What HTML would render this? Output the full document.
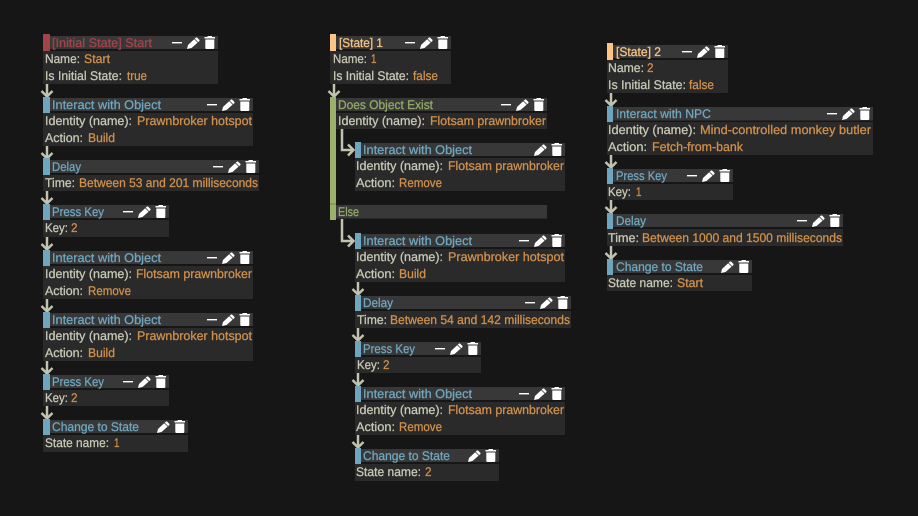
<!DOCTYPE html>
<html><head><meta charset="utf-8"><style>
html,body{margin:0;padding:0;background:#161616;width:918px;height:516px;overflow:hidden}
svg{display:block}
text{font-family:"Liberation Sans",sans-serif;font-size:12.5px;white-space:pre;text-rendering:geometricPrecision;stroke-width:.28px}
.l{fill:#c8c8b6;stroke:#c8c8b6}.v{fill:#d0904c;stroke:#d0904c}.b{fill:#6fa6bf;stroke:#6fa6bf}.r{fill:#a5434a;stroke:#a5434a}.o{fill:#f5c284;stroke:#f5c284}.g{fill:#93aa68;stroke:#93aa68}
.bd{fill:#2a2a2a}.hd{fill:#383838}
.ba{fill:#6fa6bf}.br{fill:#a5434a}.bo{fill:#fcc585}.bg{fill:#9bb16b}
.a{fill:none;stroke:#c2c2ae;stroke-width:2.5}
</style></head><body>
<svg width="918" height="516" viewBox="0 0 918 516" xmlns="http://www.w3.org/2000/svg">
<defs>
<g id="m"><rect x="-46" y="6" width="10" height="1.400" fill="#fff"/></g>
<g id="p">
<path d="M-31 13 L-30 9 L-22 1.500 L-21 1.500 L-18.500 4 L-18.500 5 L-26.500 12 Z" fill="#fff"/>
<path d="M-24 2.500 L-20 6.500" stroke="#383838" stroke-width="0.800"/>
<rect x="-13.500" y="1" width="10.500" height="1.500" fill="#fff"/><rect x="-10.500" y="0" width="4.500" height="1.500" fill="#fff"/>
<path d="M-12.700 3.500H-3.700V12Q-3.700 13 -4.700 13H-11.700Q-12.700 13 -12.700 12Z" fill="#fff"/>
</g>
<g id="ar"><path class="a" d="M0 0V12.500M-5.500 7L0 12.500L5.500 7"/></g>
</defs>
<rect width="918" height="516" fill="#161616"/>

<!-- Column 1 -->
<use href="#ar" x="47" y="84"/><use href="#ar" x="47" y="146"/><use href="#ar" x="47" y="191"/><use href="#ar" x="47" y="237"/><use href="#ar" x="47" y="299"/><use href="#ar" x="47" y="361"/><use href="#ar" x="47" y="406"/>

<rect class="hd" x="50" y="36" width="168" height="13"/><rect class="bd" x="43" y="51" width="175" height="33"/><rect class="br" x="43" y="34" width="7" height="17"/>
<use href="#m" x="218" y="36"/><use href="#p" x="218" y="36"/>
<text class="r" x="52" y="47" textLength="100" lengthAdjust="spacingAndGlyphs">[Initial State] Start</text>
<text class="l" x="45" y="63" textLength="35" lengthAdjust="spacingAndGlyphs">Name:</text><text class="v" x="84" y="63" textLength="26" lengthAdjust="spacingAndGlyphs">Start</text>
<text class="l" x="45" y="80" textLength="77" lengthAdjust="spacingAndGlyphs">Is Initial State:</text><text class="v" x="127" y="80" textLength="20" lengthAdjust="spacingAndGlyphs">true</text>

<rect class="hd" x="50" y="98" width="203" height="13"/><rect class="bd" x="43" y="113" width="210" height="33"/><rect class="ba" x="43" y="97" width="7" height="16"/>
<use href="#m" x="253" y="98"/><use href="#p" x="253" y="98"/>
<text class="b" x="52" y="109" textLength="109" lengthAdjust="spacingAndGlyphs">Interact with Object</text>
<text class="l" x="45" y="125" textLength="87" lengthAdjust="spacingAndGlyphs">Identity (name):</text><text class="v" x="137" y="125" textLength="115" lengthAdjust="spacingAndGlyphs">Prawnbroker hotspot</text>
<text class="l" x="45" y="142" textLength="38" lengthAdjust="spacingAndGlyphs">Action:</text><text class="v" x="88" y="142" textLength="27" lengthAdjust="spacingAndGlyphs">Build</text>

<rect class="hd" x="50" y="160" width="209" height="13"/><rect class="bd" x="43" y="175" width="216" height="16"/><rect class="ba" x="43" y="158" width="7" height="17"/>
<use href="#m" x="259" y="160"/><use href="#p" x="259" y="160"/>
<text class="b" x="52" y="171" textLength="29" lengthAdjust="spacingAndGlyphs">Delay</text>
<text class="l" x="45" y="187" textLength="30" lengthAdjust="spacingAndGlyphs">Time:</text><text class="v" x="79" y="187" textLength="179" lengthAdjust="spacingAndGlyphs">Between 53 and 201 milliseconds</text>

<rect class="hd" x="50" y="205" width="119" height="13"/><rect class="bd" x="43" y="220" width="126" height="17"/><rect class="ba" x="43" y="204" width="7" height="16"/>
<use href="#m" x="169" y="205"/><use href="#p" x="169" y="205"/>
<text class="b" x="52" y="216" textLength="52" lengthAdjust="spacingAndGlyphs">Press Key</text>
<text class="l" x="45" y="232" textLength="23" lengthAdjust="spacingAndGlyphs">Key:</text><text class="v" x="71" y="232" textLength="6.500" lengthAdjust="spacingAndGlyphs">2</text>

<rect class="hd" x="50" y="251" width="203" height="13"/><rect class="bd" x="43" y="266" width="210" height="33"/><rect class="ba" x="43" y="250" width="7" height="16"/>
<use href="#m" x="253" y="251"/><use href="#p" x="253" y="251"/>
<text class="b" x="52" y="262" textLength="109" lengthAdjust="spacingAndGlyphs">Interact with Object</text>
<text class="l" x="45" y="278" textLength="87" lengthAdjust="spacingAndGlyphs">Identity (name):</text><text class="v" x="136" y="278" textLength="116" lengthAdjust="spacingAndGlyphs">Flotsam prawnbroker</text>
<text class="l" x="45" y="295" textLength="38" lengthAdjust="spacingAndGlyphs">Action:</text><text class="v" x="88" y="295" textLength="43" lengthAdjust="spacingAndGlyphs">Remove</text>

<rect class="hd" x="50" y="313" width="203" height="13"/><rect class="bd" x="43" y="328" width="210" height="33"/><rect class="ba" x="43" y="312" width="7" height="16"/>
<use href="#m" x="253" y="313"/><use href="#p" x="253" y="313"/>
<text class="b" x="52" y="324" textLength="109" lengthAdjust="spacingAndGlyphs">Interact with Object</text>
<text class="l" x="45" y="340" textLength="87" lengthAdjust="spacingAndGlyphs">Identity (name):</text><text class="v" x="137" y="340" textLength="115" lengthAdjust="spacingAndGlyphs">Prawnbroker hotspot</text>
<text class="l" x="45" y="357" textLength="38" lengthAdjust="spacingAndGlyphs">Action:</text><text class="v" x="88" y="357" textLength="27" lengthAdjust="spacingAndGlyphs">Build</text>

<rect class="hd" x="50" y="375" width="119" height="13"/><rect class="bd" x="43" y="390" width="126" height="16"/><rect class="ba" x="43" y="374" width="7" height="16"/>
<use href="#m" x="169" y="375"/><use href="#p" x="169" y="375"/>
<text class="b" x="52" y="386" textLength="52" lengthAdjust="spacingAndGlyphs">Press Key</text>
<text class="l" x="45" y="402" textLength="23" lengthAdjust="spacingAndGlyphs">Key:</text><text class="v" x="71" y="402" textLength="6.500" lengthAdjust="spacingAndGlyphs">2</text>

<rect class="hd" x="50" y="420" width="138" height="13"/><rect class="bd" x="43" y="435" width="145" height="17"/><rect class="ba" x="43" y="419" width="7" height="16"/>
<use href="#p" x="188" y="420"/>
<text class="b" x="52" y="431" textLength="87" lengthAdjust="spacingAndGlyphs">Change to State</text>
<text class="l" x="45" y="447" textLength="64" lengthAdjust="spacingAndGlyphs">State name:</text><text class="v" x="114" y="447" textLength="5.500" lengthAdjust="spacingAndGlyphs">1</text>

<!-- Column 2 -->
<use href="#ar" x="334" y="84"/>
<path class="a" d="M342 129V150H353.500M348 144.500L353.500 150L348 155.500"/>
<path class="a" d="M342 219V241H353.500M348 235.500L353.500 241L348 246.500"/>
<use href="#ar" x="358" y="282"/><use href="#ar" x="358" y="328"/><use href="#ar" x="358" y="373"/><use href="#ar" x="358" y="435"/>

<rect class="hd" x="336" y="36" width="115" height="13"/><rect class="bd" x="330" y="51" width="121" height="33"/><rect class="bo" x="330" y="34" width="6" height="17"/>
<use href="#m" x="451" y="36"/><use href="#p" x="451" y="36"/>
<text class="o" x="339" y="47" textLength="44" lengthAdjust="spacingAndGlyphs">[State] 1</text>
<text class="l" x="333" y="63" textLength="34" lengthAdjust="spacingAndGlyphs">Name:</text><text class="v" x="371" y="63" textLength="5.500" lengthAdjust="spacingAndGlyphs">1</text>
<text class="l" x="333" y="80" textLength="76" lengthAdjust="spacingAndGlyphs">Is Initial State:</text><text class="v" x="413" y="80" textLength="25" lengthAdjust="spacingAndGlyphs">false</text>

<rect class="bg" x="330" y="97" width="6" height="123"/><rect x="330" y="203.500" width="6" height="1" fill="#74854f"/>
<rect class="hd" x="336" y="98" width="211" height="13"/><rect class="bd" x="336" y="113" width="211" height="16"/>
<use href="#m" x="547" y="98"/><use href="#p" x="547" y="98"/>
<text class="g" x="338" y="109" textLength="95" lengthAdjust="spacingAndGlyphs">Does Object Exist</text>
<text class="l" x="338" y="125" textLength="87" lengthAdjust="spacingAndGlyphs">Identity (name):</text><text class="v" x="430" y="125" textLength="116" lengthAdjust="spacingAndGlyphs">Flotsam prawnbroker</text>
<rect class="hd" x="336" y="205" width="211" height="13.500"/>
<text class="g" x="338" y="216" textLength="21" lengthAdjust="spacingAndGlyphs">Else</text>

<rect class="hd" x="361" y="143" width="204" height="13"/><rect class="bd" x="355" y="158" width="210" height="33"/><rect class="ba" x="355" y="142" width="6" height="16"/>
<use href="#p" x="565" y="143"/>
<text class="b" x="363" y="154" textLength="109" lengthAdjust="spacingAndGlyphs">Interact with Object</text>
<text class="l" x="356" y="170" textLength="87" lengthAdjust="spacingAndGlyphs">Identity (name):</text><text class="v" x="448" y="170" textLength="116" lengthAdjust="spacingAndGlyphs">Flotsam prawnbroker</text>
<text class="l" x="356" y="187" textLength="39" lengthAdjust="spacingAndGlyphs">Action:</text><text class="v" x="399" y="187" textLength="43" lengthAdjust="spacingAndGlyphs">Remove</text>

<rect class="hd" x="361" y="234" width="204" height="13"/><rect class="bd" x="355" y="249" width="210" height="33"/><rect class="ba" x="355" y="233" width="6" height="16"/>
<use href="#m" x="565" y="234"/><use href="#p" x="565" y="234"/>
<text class="b" x="363" y="245" textLength="109" lengthAdjust="spacingAndGlyphs">Interact with Object</text>
<text class="l" x="356" y="261" textLength="87" lengthAdjust="spacingAndGlyphs">Identity (name):</text><text class="v" x="448" y="261" textLength="116" lengthAdjust="spacingAndGlyphs">Prawnbroker hotspot</text>
<text class="l" x="356" y="278" textLength="39" lengthAdjust="spacingAndGlyphs">Action:</text><text class="v" x="399" y="278" textLength="27" lengthAdjust="spacingAndGlyphs">Build</text>

<rect class="hd" x="361" y="296" width="210" height="13"/><rect class="bd" x="355" y="311" width="216" height="17"/><rect class="ba" x="355" y="295" width="6" height="16"/>
<use href="#m" x="571" y="296"/><use href="#p" x="571" y="296"/>
<text class="b" x="363" y="307" textLength="30" lengthAdjust="spacingAndGlyphs">Delay</text>
<text class="l" x="357" y="324" textLength="30" lengthAdjust="spacingAndGlyphs">Time:</text><text class="v" x="390" y="324" textLength="180" lengthAdjust="spacingAndGlyphs">Between 54 and 142 milliseconds</text>

<rect class="hd" x="361" y="342" width="120" height="13"/><rect class="bd" x="355" y="357" width="126" height="16"/><rect class="ba" x="355" y="341" width="6" height="16"/>
<use href="#m" x="481" y="342"/><use href="#p" x="481" y="342"/>
<text class="b" x="363" y="353" textLength="52" lengthAdjust="spacingAndGlyphs">Press Key</text>
<text class="l" x="357" y="369" textLength="23" lengthAdjust="spacingAndGlyphs">Key:</text><text class="v" x="383" y="369" textLength="6.500" lengthAdjust="spacingAndGlyphs">2</text>

<rect class="hd" x="361" y="387" width="204" height="13"/><rect class="bd" x="355" y="402" width="210" height="33"/><rect class="ba" x="355" y="386" width="6" height="16"/>
<use href="#m" x="565" y="387"/><use href="#p" x="565" y="387"/>
<text class="b" x="363" y="398" textLength="109" lengthAdjust="spacingAndGlyphs">Interact with Object</text>
<text class="l" x="356" y="414" textLength="87" lengthAdjust="spacingAndGlyphs">Identity (name):</text><text class="v" x="448" y="414" textLength="116" lengthAdjust="spacingAndGlyphs">Flotsam prawnbroker</text>
<text class="l" x="356" y="431" textLength="39" lengthAdjust="spacingAndGlyphs">Action:</text><text class="v" x="399" y="431" textLength="43" lengthAdjust="spacingAndGlyphs">Remove</text>

<rect class="hd" x="361" y="449" width="138" height="13"/><rect class="bd" x="355" y="464" width="144" height="17"/><rect class="ba" x="355" y="448" width="6" height="16"/>
<use href="#p" x="499" y="449"/>
<text class="b" x="363" y="460" textLength="87" lengthAdjust="spacingAndGlyphs">Change to State</text>
<text class="l" x="356" y="476" textLength="65" lengthAdjust="spacingAndGlyphs">State name:</text><text class="v" x="425" y="476" textLength="6.500" lengthAdjust="spacingAndGlyphs">2</text>

<!-- Column 3 -->
<use href="#ar" x="611" y="93"/><use href="#ar" x="611" y="155"/><use href="#ar" x="611" y="200"/><use href="#ar" x="611" y="246"/>

<rect class="hd" x="613" y="45" width="115" height="13"/><rect class="bd" x="607" y="60" width="121" height="33"/><rect class="bo" x="607" y="43" width="6" height="17"/>
<use href="#m" x="728" y="45"/><use href="#p" x="728" y="45"/>
<text class="o" x="616" y="56" textLength="45" lengthAdjust="spacingAndGlyphs">[State] 2</text>
<text class="l" x="608" y="72" textLength="36" lengthAdjust="spacingAndGlyphs">Name:</text><text class="v" x="647" y="72" textLength="6.500" lengthAdjust="spacingAndGlyphs">2</text>
<text class="l" x="608" y="89" textLength="78" lengthAdjust="spacingAndGlyphs">Is Initial State:</text><text class="v" x="689" y="89" textLength="25" lengthAdjust="spacingAndGlyphs">false</text>

<rect class="hd" x="613" y="107" width="260" height="13.500"/><rect class="bd" x="607" y="122" width="266" height="33"/><rect class="ba" x="607" y="106" width="6" height="16"/>
<use href="#m" x="873" y="107"/><use href="#p" x="873" y="107"/>
<text class="b" x="616" y="118" textLength="95" lengthAdjust="spacingAndGlyphs">Interact with NPC</text>
<text class="l" x="608" y="134" textLength="88" lengthAdjust="spacingAndGlyphs">Identity (name):</text><text class="v" x="700" y="134" textLength="171" lengthAdjust="spacingAndGlyphs">Mind-controlled monkey butler</text>
<text class="l" x="608" y="151" textLength="39" lengthAdjust="spacingAndGlyphs">Action:</text><text class="v" x="652" y="151" textLength="91" lengthAdjust="spacingAndGlyphs">Fetch-from-bank</text>

<rect class="hd" x="613" y="169" width="120" height="13"/><rect class="bd" x="607" y="184" width="126" height="16"/><rect class="ba" x="607" y="168" width="6" height="16"/>
<use href="#m" x="733" y="169"/><use href="#p" x="733" y="169"/>
<text class="b" x="616" y="180" textLength="51" lengthAdjust="spacingAndGlyphs">Press Key</text>
<text class="l" x="608" y="196" textLength="23" lengthAdjust="spacingAndGlyphs">Key:</text><text class="v" x="636" y="196" textLength="5.500" lengthAdjust="spacingAndGlyphs">1</text>

<rect class="hd" x="613" y="214" width="230" height="13"/><rect class="bd" x="607" y="229" width="236" height="17"/><rect class="ba" x="607" y="213" width="6" height="16"/>
<use href="#m" x="843" y="214"/><use href="#p" x="843" y="214"/>
<text class="b" x="616" y="225" textLength="30" lengthAdjust="spacingAndGlyphs">Delay</text>
<text class="l" x="608" y="242" textLength="31" lengthAdjust="spacingAndGlyphs">Time:</text><text class="v" x="642" y="242" textLength="200" lengthAdjust="spacingAndGlyphs">Between 1000 and 1500 milliseconds</text>

<rect class="hd" x="613" y="260" width="139" height="13"/><rect class="bd" x="607" y="275" width="145" height="16"/><rect class="ba" x="607" y="259" width="6" height="16"/>
<use href="#p" x="752" y="260"/>
<text class="b" x="616" y="271" textLength="87" lengthAdjust="spacingAndGlyphs">Change to State</text>
<text class="l" x="608" y="287" textLength="65" lengthAdjust="spacingAndGlyphs">State name:</text><text class="v" x="677" y="287" textLength="26" lengthAdjust="spacingAndGlyphs">Start</text>
</svg>
</body></html>
